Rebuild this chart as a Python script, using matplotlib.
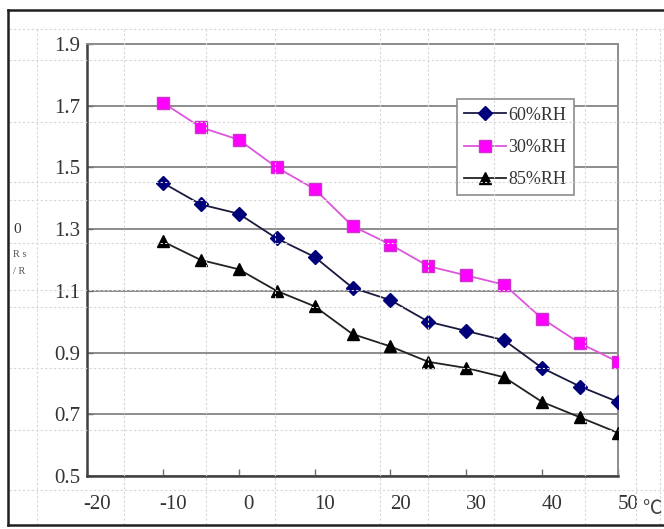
import matplotlib
matplotlib.use("Agg")
import matplotlib.pyplot as plt
from matplotlib.lines import Line2D
from matplotlib.transforms import ScaledTranslation

# temperature (C) and Rs/R0 readings for the three humidity levels
temps = [-10, -5, 0, 5, 10, 15, 20, 25, 30, 35, 40, 45, 50]
rh60 = [1.45, 1.38, 1.35, 1.27, 1.21, 1.11, 1.07, 1.00, 0.97, 0.94, 0.85, 0.79, 0.74]
rh30 = [1.71, 1.63, 1.59, 1.50, 1.43, 1.31, 1.25, 1.18, 1.15, 1.12, 1.01, 0.93, 0.87]
rh85 = [1.26, 1.20, 1.17, 1.10, 1.05, 0.96, 0.92, 0.87, 0.85, 0.82, 0.74, 0.69, 0.64]

x_ticks = [-20, -10, 0, 10, 20, 30, 40, 50]
y_ticks = [0.5, 0.7, 0.9, 1.1, 1.3, 1.5, 1.7, 1.9]

W, H = 664, 529
fig = plt.figure(figsize=(W / 100, H / 100), dpi=100)
fig.patch.set_facecolor("white")

def px(x, y):
    # pixel position (from top-left) -> figure fraction
    return x / W, 1 - y / H

# spreadsheet cell lines behind the chart
for cx in [37, 124, 206, 275, 380, 428, 494, 585, 636, 660]:
    x0, y0 = px(cx, 29)
    x1, y1 = px(cx, 524)
    fig.add_artist(Line2D([x0, x1], [y0, y1], color="#d6d6d6", lw=0.8, ls=(0, (2, 2))))
for cy in [29, 60, 122, 182, 200, 243, 290, 307, 368, 430, 490]:
    x0, y0 = px(9, cy)
    x1, y1 = px(664, cy)
    fig.add_artist(Line2D([x0, x1], [y0, y1], color="#d6d6d6", lw=0.8, ls=(0, (2, 2))))

# outer chart frame (cut off on the right)
for a, b in [((8, 10), (664, 10)), ((8, 10), (8, 525)), ((8, 525), (664, 525))]:
    x0, y0 = px(*a)
    x1, y1 = px(*b)
    fig.add_artist(Line2D([x0, x1], [y0, y1], color="#202020", lw=1.8))

left, right, top, bottom = 87, 618, 44, 476
ax = fig.add_axes([left / W, 1 - bottom / H, (right - left) / W, (bottom - top) / H])
ax.patch.set_alpha(0)

ax.plot(temps, rh60, color="#1a1a40", lw=1.3, marker="D", ms=7,
        mfc="#00007a", mec="#00007a", label="60%RH", zorder=3)
ax.plot(temps, rh30, color="#dd55dd", lw=1.3, marker="s", ms=8,
        mfc="#ff00ff", mec="#cc33cc", label="30%RH", zorder=3)
ax.plot(temps, rh85, color="#222222", lw=1.3, marker="^", ms=8,
        mfc="black", mec="black", label="85%RH", zorder=3)

ax.set_xlim(-20, 50)
ax.set_ylim(0.5, 1.9)
ax.set_xticks(x_ticks)
ax.set_yticks(y_ticks)
ax.set_xticklabels(["-20", "-10", "0", "10", "20", "30", "40", "50"])
ax.set_yticklabels(["%.1f" % v for v in y_ticks])
ax.grid(axis="y", color="#8c8c8c", lw=1.4)
ax.set_axisbelow(True)

ax.tick_params(axis="x", direction="in", length=5, width=1, color="#707070",
               pad=14, labelsize=15, labelcolor="#333333")
ax.tick_params(axis="y", direction="in", length=4, width=1, color="#707070",
               pad=5, labelsize=15, labelcolor="#333333")
for lab in ax.get_xticklabels() + ax.get_yticklabels():
    lab.set_fontfamily("Liberation Serif")
shift = ScaledTranslation(10 / 100, 0, fig.dpi_scale_trans)
for lab in ax.get_xticklabels():
    lab.set_transform(lab.get_transform() + shift)

for side in ["left", "bottom"]:
    ax.spines[side].set_color("#404040")
    ax.spines[side].set_linewidth(1.8)
for side in ["top", "right"]:
    ax.spines[side].set_color("#8c8c8c")
    ax.spines[side].set_linewidth(1.4)

leg = ax.legend(loc="upper left", bbox_to_anchor=(0.697, 0.872), frameon=True,
                fancybox=False, edgecolor="#8c8c8c", framealpha=1,
                prop={"family": "Liberation Serif", "size": 13},
                handlelength=2.3, handletextpad=0.15, labelspacing=0.85,
                borderpad=0.4, borderaxespad=0)
leg.get_frame().set_linewidth(1.2)
for t in leg.get_texts():
    t.set_color("#333333")

# unit sign and the broken y label of the original sheet
fig.text(652 / W, 1 - 508 / H, "\u2103", fontsize=14, color="#444444",
         family=["Noto Sans CJK SC", "DejaVu Sans"], ha="center", va="center")
fig.text(13 / W, 1 - 230 / H, "0", fontsize=11, color="#333333",
         family="Liberation Serif", va="center")
fig.text(13 / W, 1 - 255 / H, "R s", fontsize=7.5, color="#555555",
         family="Liberation Serif", va="center")
fig.text(13 / W, 1 - 272 / H, "/ R", fontsize=7.5, color="#555555",
         family="Liberation Serif", va="center")

plt.savefig("out.png", dpi=100)
